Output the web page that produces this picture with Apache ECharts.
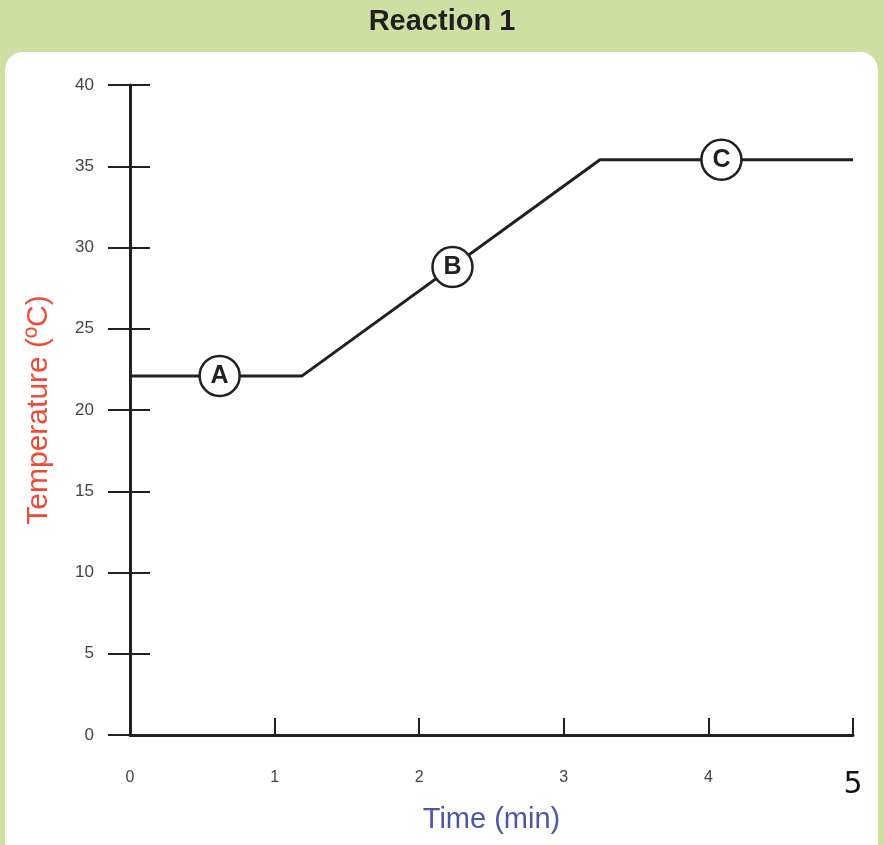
<!DOCTYPE html>
<html><head><meta charset="utf-8">
<script src="https://cdn.jsdelivr.net/npm/echarts@6/dist/echarts.min.js"></script>
<style>html,body{margin:0;padding:0;background:#cde0a2}#c{width:884px;height:845px}</style>
</head><body><div id="c"></div>
<script>
// curve of temperature against time
var lineTimes = [0, 1.19, 3.25, 5];
var lineTemps = [22.1, 22.1, 35.4, 35.4];
// circled stage labels
var stageNames = ['A', 'B', 'C'];
var stageTimes = [0.62, 2.23, 4.09];
var stageTemps = [22.1, 28.8, 35.4];

var chart = echarts.init(document.getElementById('c'));
var yBase = {
  type: 'value', min: 0, max: 40, interval: 5, position: 'left',
  splitLine: { show: false }
};
chart.setOption({
  backgroundColor: '#cde0a2',
  animation: false,
  title: {
    text: 'Reaction 1', left: 'center', top: 2,
    textStyle: { fontFamily: 'Liberation Sans', fontSize: 29, fontWeight: 'bold', color: '#231f20' }
  },
  graphic: [{
    type: 'rect', z: -1, shape: { x: 5, y: 52, width: 873, height: 820, r: 18 },
    style: { fill: '#ffffff' }
  }],
  grid: { left: 130, right: 31, top: 85, bottom: 110 },
  xAxis: {
    type: 'value', min: 0, max: 5, interval: 1,
    name: 'Time (min)', nameLocation: 'middle', nameGap: 70,
    nameTextStyle: { fontFamily: 'Liberation Sans', fontSize: 29, color: '#4e57a6' },
    axisLine: { lineStyle: { color: '#231f20', width: 3 } },
    axisTick: { inside: true, length: 17, lineStyle: { color: '#231f20', width: 2 } },
    axisLabel: {
      margin: 35, color: '#444', fontFamily: 'Liberation Sans', fontSize: 16,
      formatter: function (v) { return v === 5 ? '{big|5}' : String(v); },
      rich: { big: { fontSize: 30, color: '#111', fontFamily: 'DejaVu Sans' } }
    },
    splitLine: { show: false }
  },
  yAxis: [
    Object.assign({}, yBase, {
      name: 'Temperature (ºC)', nameLocation: 'middle', nameGap: 76,
      nameTextStyle: { fontFamily: 'Liberation Sans', fontSize: 30, color: '#ef4a36' },
      axisLine: { lineStyle: { color: '#231f20', width: 3 } },
      axisTick: { length: 22, lineStyle: { color: '#231f20', width: 2 } },
      axisLabel: { margin: 36, color: '#444', fontFamily: 'Liberation Sans', fontSize: 17 }
    }),
    Object.assign({}, yBase, {
      axisLine: { show: false },
      axisTick: { inside: true, length: 20, lineStyle: { color: '#231f20', width: 2 } },
      axisLabel: { show: false }
    })
  ],
  series: [{
    type: 'line', symbol: 'none',
    data: lineTimes.map(function (t, i) { return [t, lineTemps[i]]; }),
    lineStyle: { color: '#231f20', width: 3 }
  }, {
    type: 'scatter', symbol: 'circle', symbolSize: 40, z: 5,
    data: stageNames.map(function (n, i) { return { name: n, value: [stageTimes[i], stageTemps[i]] }; }),
    itemStyle: { color: '#fff', borderColor: '#231f20', borderWidth: 2.5, opacity: 1 },
    label: {
      show: true, position: 'inside', formatter: '{b}',
      fontFamily: 'Liberation Sans', fontWeight: 'bold', fontSize: 25, color: '#231f20'
    }
  }]
});
</script></body></html>
